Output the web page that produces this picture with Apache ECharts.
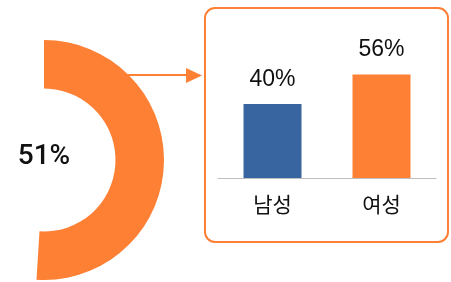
<!DOCTYPE html>
<html lang="ko">
<head>
	<meta charset="UTF-8">
	<title>echarts</title>
	<style>
		html, body { margin: 0; padding: 0; background: #fff; }
	</style>
</head>
<body>
	<div id="demo" style="width: 451px;height:282px;"></div>
	<script src="https://cdn.jsdelivr.net/npm/echarts@6/dist/echarts.min.js"></script>
	<script>
		// 데이터
		var totalShare = 51;
		var genders = ['남성', '여성'];
		var genderShare = [40, 56];
		var barColors = ['#3864A0', '#FD8035'];
		var orange = '#FD8035';

		var myChart = echarts.init(document.getElementById('demo'));

		var option = {
			animation: false,
			grid: { left: 218, right: 15, top: 67, bottom: 104 },
			xAxis: {
				type: 'category',
				data: genders,
				axisTick: { show: false },
				axisLine: { lineStyle: { color: '#BFBFBF', width: 1 } },
				axisLabel: {
					margin: 16,
					color: '#111',
					fontSize: 21,
					fontFamily: 'Noto Sans CJK KR'
				}
			},
			yAxis: { type: 'value', min: 0, max: 60, show: false },
			graphic: [
				{
					type: 'rect',
					shape: { x: 205, y: 8, width: 243, height: 234, r: 10 },
					style: { fill: 'none', stroke: orange, lineWidth: 2 }
				},
				{
					type: 'line',
					z: 0,
					shape: { x1: 120, y1: 75, x2: 190, y2: 75 },
					style: { stroke: orange, lineWidth: 2 }
				},
				{
					type: 'polygon',
					shape: { points: [[186, 68], [202, 75.5], [186, 83]] },
					style: { fill: orange }
				}
			],
			series: [
				{
					type: 'pie',
					z: 3,
					center: [44, 160],
					radius: [71.5, 120],
					startAngle: 90,
					clockwise: true,
					silent: true,
					label: { show: false },
					labelLine: { show: false },
					data: [
						{
							value: totalShare,
							itemStyle: { color: orange },
							label: {
								show: true,
								position: 'center',
								formatter: '{c}%',
								color: '#111',
								fontSize: 28,
								fontWeight: 500,
								fontFamily: 'Roboto',
								offset: [0, -3]
							}
						},
						{ value: 100 - totalShare, itemStyle: { color: 'rgba(0,0,0,0)' } }
					]
				},
				{
					type: 'bar',
					barWidth: 58,
					data: genderShare.map(function (v, i) {
						return { value: v, itemStyle: { color: barColors[i] } };
					}),
					label: {
						show: true,
						position: 'top',
						distance: 13,
						formatter: '{c}%',
						color: '#111',
						fontSize: 23,
						fontFamily: 'Liberation Sans'
					}
				}
			]
		};

		myChart.setOption(option);
	</script>
</body>
</html>
